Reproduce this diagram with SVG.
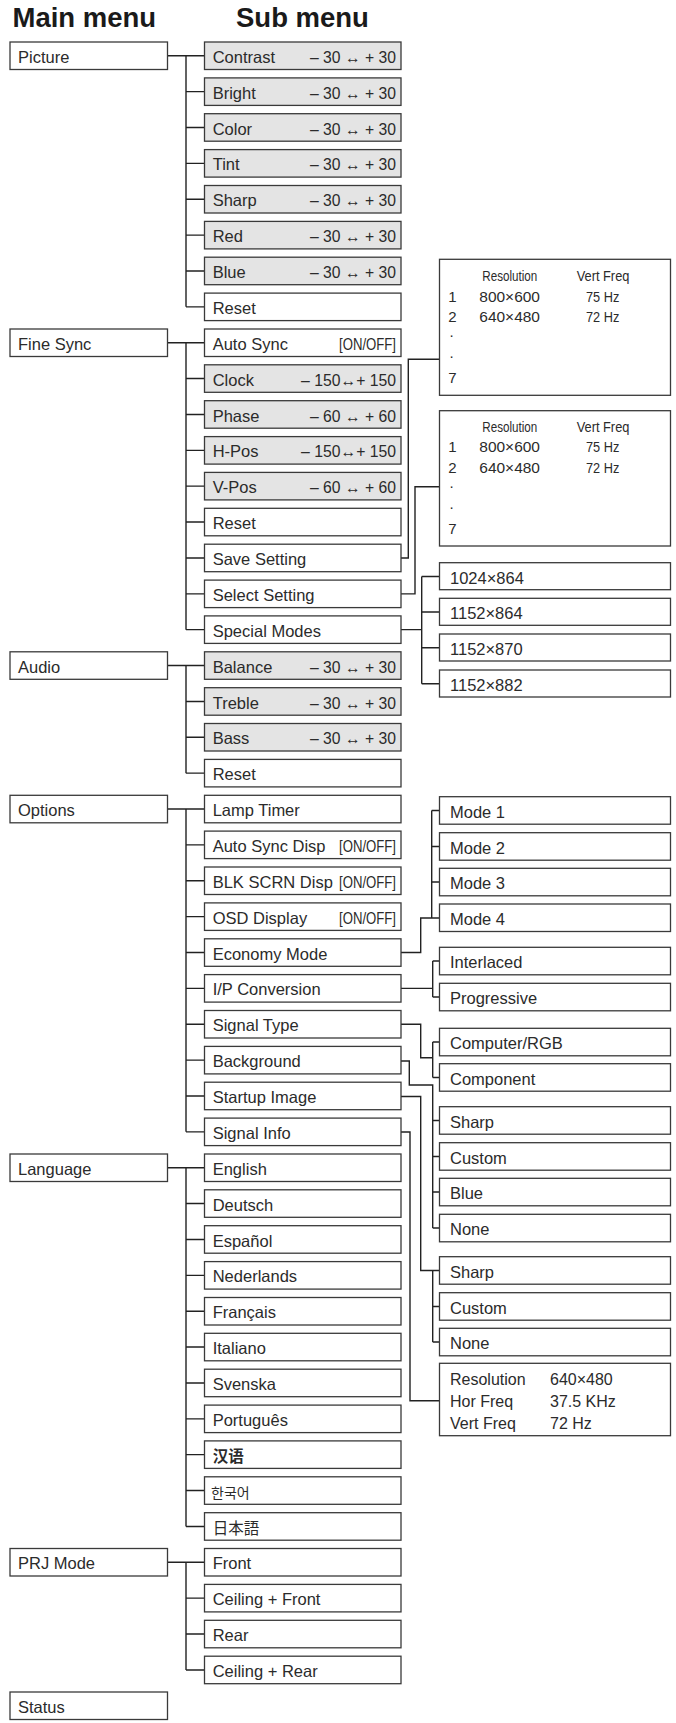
<svg xmlns="http://www.w3.org/2000/svg" width="676" height="1723" viewBox="0 0 676 1723">
<style>
.b{fill:#fff;stroke:#3a3a3a;stroke-width:1.3}
.g{fill:#e4e4e4;stroke:#3a3a3a;stroke-width:1.3}
text{font-family:"Liberation Sans",Arial,sans-serif;fill:#2b2b2b}
.t{font-size:16.5px}
.v{font-size:16px}
.p{font-size:15px}
.h{font-size:27.5px;font-weight:bold;fill:#1a1a1a}
.c{fill:none;stroke:#222;stroke-width:1.4}
.cj{font-size:15.5px}
</style>
<rect width="676" height="1723" fill="#fff"/>
<text class="h" x="12.5" y="26.7">Main menu</text>
<text class="h" x="236" y="26.7">Sub menu</text>

<g id="connectors">
<path class="c" d="M167.5,55.75H204.5M186,55.75V306.85M186,91.65H204.5M186,127.45H204.5M186,163.35H204.5M186,199.25H204.5M186,235.15H204.5M186,270.95H204.5M186,306.85H204.5"/>
<path class="c" d="M167.5,342.75H204.5M186,342.75V629.65M186,378.55H204.5M186,414.45H204.5M186,450.35H204.5M186,486.15H204.5M186,522.05H204.5M186,557.95H204.5M186,593.85H204.5M186,629.65H204.5"/>
<path class="c" d="M167.5,665.55H204.5M186,665.55V773.15M186,701.45H204.5M186,737.25H204.5M186,773.15H204.5"/>
<path class="c" d="M167.5,809.05H204.5M186,809.05V1131.85M186,844.85H204.5M186,880.75H204.5M186,916.65H204.5M186,952.55H204.5M186,988.35H204.5M186,1024.25H204.5M186,1060.15H204.5M186,1095.95H204.5M186,1131.85H204.5"/>
<path class="c" d="M167.5,1167.75H204.5M186,1167.75V1526.45M186,1203.55H204.5M186,1239.45H204.5M186,1275.35H204.5M186,1311.25H204.5M186,1347.05H204.5M186,1382.95H204.5M186,1418.85H204.5M186,1454.65H204.5M186,1490.55H204.5M186,1526.45H204.5"/>
<path class="c" d="M167.5,1562.25H204.5M186,1562.25V1669.95M186,1598.15H204.5M186,1634.05H204.5M186,1669.95H204.5"/>
<path class="c" d="M401,557.95H408.3V359.3H439.5"/>
<path class="c" d="M401,593.85H415V486.7H439.5"/>
<path class="c" d="M401,629.65H421.7M421.7,576.5V683.7M421.7,576.5H439.5M421.7,612H439.5M421.7,647.7H439.5M421.7,683.7H439.5"/>
<path class="c" d="M401,952.55H420.7V918H439.5M431.7,810.5V918M431.7,810.5H439.5M431.7,846.5H439.5M431.7,882H439.5"/>
<path class="c" d="M401,988.35H432.7M432.7,961V997M432.7,961H439.5M432.7,997H439.5"/>
<path class="c" d="M401,1024.25H420.7V1057.7H432.7M432.7,1042V1077.5M432.7,1042H439.5M432.7,1077.5H439.5"/>
<path class="c" d="M401,1061H409.3V1085H432.7V1228M432.7,1120.5H439.5M432.7,1156.5H439.5M432.7,1192H439.5M432.7,1228H439.5"/>
<path class="c" d="M401,1096.5H420.7V1270.5H439.5M432.7,1270.5V1342M432.7,1306.5H439.5M432.7,1342H439.5"/>
<path class="c" d="M401,1132H410V1400.7H439.5"/>
</g>

<g id="main-picture"><rect class="b" x="10" y="42" width="157.5" height="27.5"/><text class="t" x="18" y="62.8">Picture</text></g>
<g id="main-finesync"><rect class="b" x="10" y="329" width="157.5" height="27.5"/><text class="t" x="18" y="349.8">Fine Sync</text></g>
<g id="main-audio"><rect class="b" x="10" y="651.8" width="157.5" height="27.5"/><text class="t" x="18" y="672.6">Audio</text></g>
<g id="main-options"><rect class="b" x="10" y="795.3" width="157.5" height="27.5"/><text class="t" x="18" y="816.1">Options</text></g>
<g id="main-language"><rect class="b" x="10" y="1154" width="157.5" height="27.5"/><text class="t" x="18" y="1174.8">Language</text></g>
<g id="main-prj"><rect class="b" x="10" y="1548.5" width="157.5" height="27.5"/><text class="t" x="18" y="1569.3">PRJ Mode</text></g>
<g id="main-status"><rect class="b" x="10" y="1692" width="157.5" height="27.5"/><text class="t" x="18" y="1712.8">Status</text></g>

<g id="sub-contrast"><rect class="g" x="204.5" y="42" width="196.5" height="27.5"/><text class="t" x="212.7" y="62.8">Contrast</text><text class="v" x="310" y="62.8" textLength="86" lengthAdjust="spacingAndGlyphs">– 30 ↔ + 30</text></g>
<g id="sub-bright"><rect class="g" x="204.5" y="77.9" width="196.5" height="27.5"/><text class="t" x="212.7" y="98.7">Bright</text><text class="v" x="310" y="98.7" textLength="86" lengthAdjust="spacingAndGlyphs">– 30 ↔ + 30</text></g>
<g id="sub-color"><rect class="g" x="204.5" y="113.7" width="196.5" height="27.5"/><text class="t" x="212.7" y="134.5">Color</text><text class="v" x="310" y="134.5" textLength="86" lengthAdjust="spacingAndGlyphs">– 30 ↔ + 30</text></g>
<g id="sub-tint"><rect class="g" x="204.5" y="149.6" width="196.5" height="27.5"/><text class="t" x="212.7" y="170.4">Tint</text><text class="v" x="310" y="170.4" textLength="86" lengthAdjust="spacingAndGlyphs">– 30 ↔ + 30</text></g>
<g id="sub-sharp"><rect class="g" x="204.5" y="185.5" width="196.5" height="27.5"/><text class="t" x="212.7" y="206.3">Sharp</text><text class="v" x="310" y="206.3" textLength="86" lengthAdjust="spacingAndGlyphs">– 30 ↔ + 30</text></g>
<g id="sub-red"><rect class="g" x="204.5" y="221.4" width="196.5" height="27.5"/><text class="t" x="212.7" y="242.2">Red</text><text class="v" x="310" y="242.2" textLength="86" lengthAdjust="spacingAndGlyphs">– 30 ↔ + 30</text></g>
<g id="sub-blue"><rect class="g" x="204.5" y="257.2" width="196.5" height="27.5"/><text class="t" x="212.7" y="278">Blue</text><text class="v" x="310" y="278" textLength="86" lengthAdjust="spacingAndGlyphs">– 30 ↔ + 30</text></g>
<g id="sub-reset1"><rect class="b" x="204.5" y="293.1" width="196.5" height="27.5"/><text class="t" x="212.7" y="313.9">Reset</text></g>

<g id="sub-autosync"><rect class="b" x="204.5" y="329" width="196.5" height="27.5"/><text class="t" x="212.7" y="349.8">Auto Sync</text><text class="v" x="339" y="349.8" textLength="57" lengthAdjust="spacingAndGlyphs">[ON/OFF]</text></g>
<g id="sub-clock"><rect class="g" x="204.5" y="364.8" width="196.5" height="27.5"/><text class="t" x="212.7" y="385.6">Clock</text><text class="v" x="301" y="385.6" textLength="95" lengthAdjust="spacingAndGlyphs">– 150↔+ 150</text></g>
<g id="sub-phase"><rect class="g" x="204.5" y="400.7" width="196.5" height="27.5"/><text class="t" x="212.7" y="421.5">Phase</text><text class="v" x="310" y="421.5" textLength="86" lengthAdjust="spacingAndGlyphs">– 60 ↔ + 60</text></g>
<g id="sub-hpos"><rect class="g" x="204.5" y="436.6" width="196.5" height="27.5"/><text class="t" x="212.7" y="457.4">H-Pos</text><text class="v" x="301" y="457.4" textLength="95" lengthAdjust="spacingAndGlyphs">– 150↔+ 150</text></g>
<g id="sub-vpos"><rect class="g" x="204.5" y="472.4" width="196.5" height="27.5"/><text class="t" x="212.7" y="493.2">V-Pos</text><text class="v" x="310" y="493.2" textLength="86" lengthAdjust="spacingAndGlyphs">– 60 ↔ + 60</text></g>
<g id="sub-reset2"><rect class="b" x="204.5" y="508.3" width="196.5" height="27.5"/><text class="t" x="212.7" y="529.1">Reset</text></g>
<g id="sub-savesetting"><rect class="b" x="204.5" y="544.2" width="196.5" height="27.5"/><text class="t" x="212.7" y="565">Save Setting</text></g>
<g id="sub-selectsetting"><rect class="b" x="204.5" y="580.1" width="196.5" height="27.5"/><text class="t" x="212.7" y="600.9">Select Setting</text></g>
<g id="sub-specialmodes"><rect class="b" x="204.5" y="615.9" width="196.5" height="27.5"/><text class="t" x="212.7" y="636.7">Special Modes</text></g>

<g id="sub-balance"><rect class="g" x="204.5" y="651.8" width="196.5" height="27.5"/><text class="t" x="212.7" y="672.6">Balance</text><text class="v" x="310" y="672.6" textLength="86" lengthAdjust="spacingAndGlyphs">– 30 ↔ + 30</text></g>
<g id="sub-treble"><rect class="g" x="204.5" y="687.7" width="196.5" height="27.5"/><text class="t" x="212.7" y="708.5">Treble</text><text class="v" x="310" y="708.5" textLength="86" lengthAdjust="spacingAndGlyphs">– 30 ↔ + 30</text></g>
<g id="sub-bass"><rect class="g" x="204.5" y="723.5" width="196.5" height="27.5"/><text class="t" x="212.7" y="744.3">Bass</text><text class="v" x="310" y="744.3" textLength="86" lengthAdjust="spacingAndGlyphs">– 30 ↔ + 30</text></g>
<g id="sub-reset3"><rect class="b" x="204.5" y="759.4" width="196.5" height="27.5"/><text class="t" x="212.7" y="780.2">Reset</text></g>

<g id="sub-lamptimer"><rect class="b" x="204.5" y="795.3" width="196.5" height="27.5"/><text class="t" x="212.7" y="816.1">Lamp Timer</text></g>
<g id="sub-autosyncdisp"><rect class="b" x="204.5" y="831.1" width="196.5" height="27.5"/><text class="t" x="212.7" y="851.9">Auto Sync Disp</text><text class="v" x="339" y="851.9" textLength="57" lengthAdjust="spacingAndGlyphs">[ON/OFF]</text></g>
<g id="sub-blkscrn"><rect class="b" x="204.5" y="867" width="196.5" height="27.5"/><text class="t" x="212.7" y="887.8">BLK SCRN Disp</text><text class="v" x="339" y="887.8" textLength="57" lengthAdjust="spacingAndGlyphs">[ON/OFF]</text></g>
<g id="sub-osd"><rect class="b" x="204.5" y="902.9" width="196.5" height="27.5"/><text class="t" x="212.7" y="923.7">OSD Display</text><text class="v" x="339" y="923.7" textLength="57" lengthAdjust="spacingAndGlyphs">[ON/OFF]</text></g>
<g id="sub-economy"><rect class="b" x="204.5" y="938.8" width="196.5" height="27.5"/><text class="t" x="212.7" y="959.6">Economy Mode</text></g>
<g id="sub-ipconv"><rect class="b" x="204.5" y="974.6" width="196.5" height="27.5"/><text class="t" x="212.7" y="995.4">I/P Conversion</text></g>
<g id="sub-signaltype"><rect class="b" x="204.5" y="1010.5" width="196.5" height="27.5"/><text class="t" x="212.7" y="1031.3">Signal Type</text></g>
<g id="sub-background"><rect class="b" x="204.5" y="1046.4" width="196.5" height="27.5"/><text class="t" x="212.7" y="1067.2">Background</text></g>
<g id="sub-startup"><rect class="b" x="204.5" y="1082.2" width="196.5" height="27.5"/><text class="t" x="212.7" y="1103">Startup Image</text></g>
<g id="sub-signalinfo"><rect class="b" x="204.5" y="1118.1" width="196.5" height="27.5"/><text class="t" x="212.7" y="1138.9">Signal Info</text></g>

<g id="sub-english"><rect class="b" x="204.5" y="1154" width="196.5" height="27.5"/><text class="t" x="212.7" y="1174.8">English</text></g>
<g id="sub-deutsch"><rect class="b" x="204.5" y="1189.8" width="196.5" height="27.5"/><text class="t" x="212.7" y="1210.6">Deutsch</text></g>
<g id="sub-espanol"><rect class="b" x="204.5" y="1225.7" width="196.5" height="27.5"/><text class="t" x="212.7" y="1246.5">Español</text></g>
<g id="sub-nederlands"><rect class="b" x="204.5" y="1261.6" width="196.5" height="27.5"/><text class="t" x="212.7" y="1282.4">Nederlands</text></g>
<g id="sub-francais"><rect class="b" x="204.5" y="1297.5" width="196.5" height="27.5"/><text class="t" x="212.7" y="1318.3">Français</text></g>
<g id="sub-italiano"><rect class="b" x="204.5" y="1333.3" width="196.5" height="27.5"/><text class="t" x="212.7" y="1354.1">Italiano</text></g>
<g id="sub-svenska"><rect class="b" x="204.5" y="1369.2" width="196.5" height="27.5"/><text class="t" x="212.7" y="1390">Svenska</text></g>
<g id="sub-portugues"><rect class="b" x="204.5" y="1405.1" width="196.5" height="27.5"/><text class="t" x="212.7" y="1425.9">Português</text></g>
<g id="sub-chinese"><rect class="b" x="204.5" y="1440.9" width="196.5" height="27.5"/><text class="cj" x="212.7" y="1461.7" style="font-family:'Noto Sans CJK SC',sans-serif;font-weight:bold">汉语</text></g>
<g id="sub-korean"><rect class="b" x="204.5" y="1476.8" width="196.5" height="27.5"/><text class="cj" x="211" y="1497.6" style="font-family:'Noto Sans CJK KR',sans-serif;font-size:14px">한국어</text></g>
<g id="sub-japanese"><rect class="b" x="204.5" y="1512.7" width="196.5" height="27.5"/><text class="cj" x="212.7" y="1533.5" style="font-family:'Noto Sans CJK JP',sans-serif">日本語</text></g>

<g id="sub-front"><rect class="b" x="204.5" y="1548.5" width="196.5" height="27.5"/><text class="t" x="212.7" y="1569.3">Front</text></g>
<g id="sub-ceilingfront"><rect class="b" x="204.5" y="1584.4" width="196.5" height="27.5"/><text class="t" x="212.7" y="1605.2">Ceiling + Front</text></g>
<g id="sub-rear"><rect class="b" x="204.5" y="1620.3" width="196.5" height="27.5"/><text class="t" x="212.7" y="1641.1">Rear</text></g>
<g id="sub-ceilingrear"><rect class="b" x="204.5" y="1656.2" width="196.5" height="27.5"/><text class="t" x="212.7" y="1677">Ceiling + Rear</text></g>

<g id="pop-save">
<rect class="b" x="439.5" y="259.3" width="231" height="136"/>
<text class="p" x="482.3" y="281" textLength="55" lengthAdjust="spacingAndGlyphs">Resolution</text>
<text class="p" x="576.7" y="281" textLength="52.7" lengthAdjust="spacingAndGlyphs">Vert Freq</text>
<text class="p" x="448.3" y="301.7">1</text>
<text class="p" x="479.3" y="301.7" textLength="60.7" lengthAdjust="spacingAndGlyphs">800×600</text>
<text class="p" x="586" y="301.7" textLength="33.3" lengthAdjust="spacingAndGlyphs">75 Hz</text>
<text class="p" x="448.3" y="322.3">2</text>
<text class="p" x="479.3" y="322.3" textLength="60.7" lengthAdjust="spacingAndGlyphs">640×480</text>
<text class="p" x="586" y="322.3" textLength="33.3" lengthAdjust="spacingAndGlyphs">72 Hz</text>
<text class="p" x="449.5" y="337">.</text>
<text class="p" x="449.5" y="357.7">.</text>
<text class="p" x="448.3" y="383.3">7</text>
</g>
<g id="pop-select">
<rect class="b" x="439.5" y="410.7" width="231" height="135.3"/>
<text class="p" x="482.3" y="431.5" textLength="55" lengthAdjust="spacingAndGlyphs">Resolution</text>
<text class="p" x="576.7" y="431.5" textLength="52.7" lengthAdjust="spacingAndGlyphs">Vert Freq</text>
<text class="p" x="448.3" y="452">1</text>
<text class="p" x="479.3" y="452" textLength="60.7" lengthAdjust="spacingAndGlyphs">800×600</text>
<text class="p" x="586" y="452" textLength="33.3" lengthAdjust="spacingAndGlyphs">75 Hz</text>
<text class="p" x="448.3" y="472.8">2</text>
<text class="p" x="479.3" y="472.8" textLength="60.7" lengthAdjust="spacingAndGlyphs">640×480</text>
<text class="p" x="586" y="472.8" textLength="33.3" lengthAdjust="spacingAndGlyphs">72 Hz</text>
<text class="p" x="449.5" y="488">.</text>
<text class="p" x="449.5" y="508.5">.</text>
<text class="p" x="448.3" y="533.5">7</text>
</g>

<g id="sp-1024x864"><rect class="b" x="439.5" y="562.7" width="231" height="27"/><text class="t" x="450" y="583.5">1024×864</text></g>
<g id="sp-1152x864"><rect class="b" x="439.5" y="598.3" width="231" height="27"/><text class="t" x="450" y="619.1">1152×864</text></g>
<g id="sp-1152x870"><rect class="b" x="439.5" y="634" width="231" height="27"/><text class="t" x="450" y="654.8">1152×870</text></g>
<g id="sp-1152x882"><rect class="b" x="439.5" y="670" width="231" height="27"/><text class="t" x="450" y="690.8">1152×882</text></g>

<g id="eco-mode1"><rect class="b" x="439.5" y="796.7" width="231" height="27.5"/><text class="t" x="450" y="817.7">Mode 1</text></g>
<g id="eco-mode2"><rect class="b" x="439.5" y="832.7" width="231" height="27.5"/><text class="t" x="450" y="853.7">Mode 2</text></g>
<g id="eco-mode3"><rect class="b" x="439.5" y="868.3" width="231" height="27.5"/><text class="t" x="450" y="889.3">Mode 3</text></g>
<g id="eco-mode4"><rect class="b" x="439.5" y="904" width="231" height="27.5"/><text class="t" x="450" y="925">Mode 4</text></g>

<g id="ip-interlaced"><rect class="b" x="439.5" y="947.3" width="231" height="27.5"/><text class="t" x="450" y="968.3">Interlaced</text></g>
<g id="ip-progressive"><rect class="b" x="439.5" y="983.3" width="231" height="27.5"/><text class="t" x="450" y="1004.3">Progressive</text></g>

<g id="st-computer"><rect class="b" x="439.5" y="1028.3" width="231" height="27.5"/><text class="t" x="450" y="1049.3">Computer/RGB</text></g>
<g id="st-component"><rect class="b" x="439.5" y="1063.7" width="231" height="27.5"/><text class="t" x="450" y="1084.7">Component</text></g>

<g id="bg-sharp"><rect class="b" x="439.5" y="1106.7" width="231" height="27.5"/><text class="t" x="450" y="1127.7">Sharp</text></g>
<g id="bg-custom"><rect class="b" x="439.5" y="1142.7" width="231" height="27.5"/><text class="t" x="450" y="1163.7">Custom</text></g>
<g id="bg-blue"><rect class="b" x="439.5" y="1178.3" width="231" height="27.5"/><text class="t" x="450" y="1199.3">Blue</text></g>
<g id="bg-none"><rect class="b" x="439.5" y="1214.3" width="231" height="27.5"/><text class="t" x="450" y="1235.3">None</text></g>

<g id="si-sharp"><rect class="b" x="439.5" y="1256.7" width="231" height="27.5"/><text class="t" x="450" y="1277.7">Sharp</text></g>
<g id="si-custom"><rect class="b" x="439.5" y="1292.7" width="231" height="27.5"/><text class="t" x="450" y="1313.7">Custom</text></g>
<g id="si-none"><rect class="b" x="439.5" y="1328.3" width="231" height="27.5"/><text class="t" x="450" y="1349.3">None</text></g>

<g id="info">
<rect class="b" x="439.5" y="1363.3" width="231" height="72.4"/>
<text class="v" x="450" y="1385">Resolution</text><text class="v" x="550" y="1385">640×480</text>
<text class="v" x="450" y="1407">Hor Freq</text><text class="v" x="550" y="1407">37.5 KHz</text>
<text class="v" x="450" y="1428.5">Vert Freq</text><text class="v" x="550" y="1428.5">72 Hz</text>
</g>
</svg>
